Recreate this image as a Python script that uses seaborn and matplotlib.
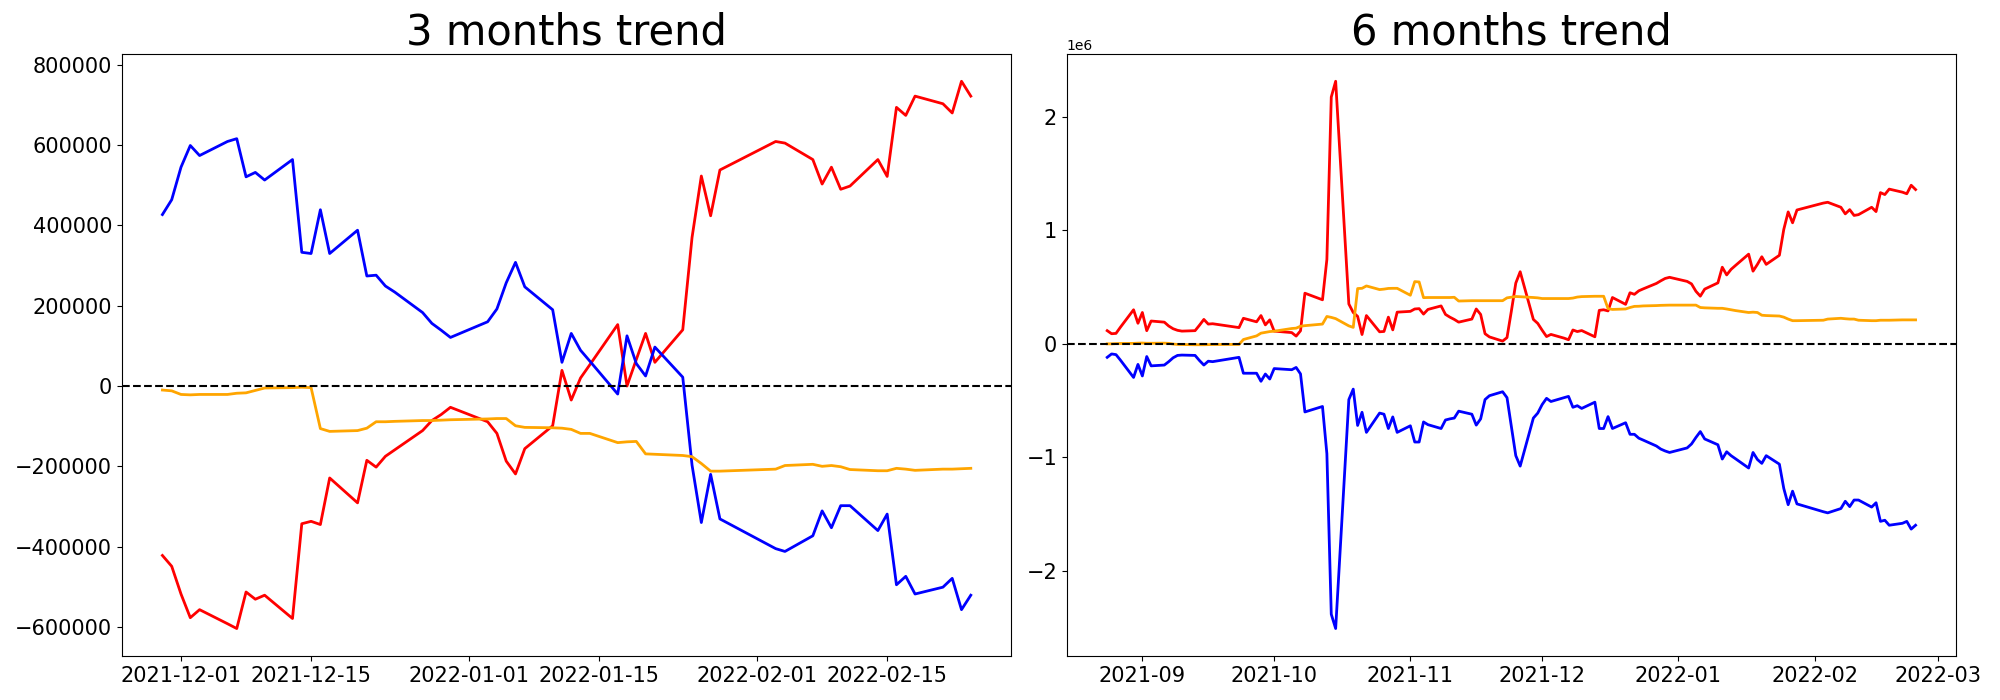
import numpy as np
import pandas as pd
import matplotlib
matplotlib.use("Agg")
import matplotlib.pyplot as plt
import seaborn as sns

# KRX trading calendar (market holidays in the period)
krx_holidays = ["2021-09-20", "2021-09-21", "2021-09-22", "2021-10-04", "2021-10-11",
                "2021-12-31", "2022-01-31", "2022-02-01", "2022-02-02"]

dates_3m = pd.bdate_range("2021-11-29", "2022-02-24", freq="C", holidays=krx_holidays)
dates_6m = pd.bdate_range("2021-08-24", "2022-02-24", freq="C", holidays=krx_holidays)

# 3 months trend (cumulative, in thousands)
red_3m = [-422, -449,
          -518, -577, -557, -592, -604, -513, -531, -521, -579, -343, -337, -345, -229, -291,
          -185, -202, -175, -159, -111, -86, -71, -53,
          -89, -118, -187, -219, -156, -99, 39, -35, 20, 53, 153, 0, 66, 131, 59, 140,
          370, 523, 424, 538,
          609, 605, 564, 503, 545, 490, 498, 564, 522, 694, 674, 722, 703, 680, 759, 722]
blue_3m = [427, 464,
           545, 599, 574, 609, 616, 521, 532, 513, 564, 333, 330, 439, 330, 388,
           274, 276, 249, 234, 183, 156, 139, 121,
           160, 192, 257, 308, 247, 190, 59, 131, 89, 62, -20, 125, 56, 25, 97, 22,
           -197, -340, -220, -331,
           -405, -412, -373, -311, -353, -298, -298, -360, -319, -495, -474, -518, -501, -479, -557, -521]
orange_3m = [-10, -12,
             -21, -22, -21, -21, -18, -17, -11, -5, -4, -3, -4, -106, -113, -111,
             -105, -89, -89, -88, -86, -86, -85, -84,
             -82, -81, -81, -99, -103, -104, -105, -108, -118, -118, -141, -139, -138, -169, -170, -173,
             -176, -193, -212, -212,
             -207, -198, -195, -200, -198, -201, -208, -211, -211, -205, -207, -210, -207, -207, -206, -205]

# 6 months trend (cumulative, in millions)
red_6m = [0.116, 0.089, 0.092, 0.146, 0.300, 0.181,
          0.276, 0.116, 0.201, 0.191, 0.157, 0.133, 0.119, 0.112, 0.116, 0.164, 0.215, 0.174, 0.177,
          0.143, 0.225, 0.194, 0.249, 0.167, 0.211,
          0.112, 0.099, 0.068, 0.115, 0.446, 0.388, 0.743, 2.174, 2.313, 0.351, 0.276, 0.242, 0.082,
          0.249, 0.106, 0.109, 0.235, 0.123, 0.279,
          0.286, 0.307, 0.310, 0.262, 0.303, 0.334, 0.259, 0.235, 0.215, 0.191, 0.218, 0.307, 0.259,
          0.089, 0.061, 0.024, 0.055, 0.290, 0.535, 0.635, 0.215, 0.180,
          0.120, 0.064, 0.083, 0.050, 0.036, 0.122, 0.108, 0.117, 0.062, 0.295, 0.300, 0.290, 0.408,
          0.348, 0.450, 0.436, 0.467, 0.484, 0.532, 0.555, 0.576, 0.586,
          0.550, 0.528, 0.463, 0.420, 0.482, 0.537, 0.675, 0.607, 0.656, 0.690, 0.790, 0.640, 0.700,
          0.767, 0.700, 0.780, 1.008, 1.162, 1.066, 1.179,
          1.240, 1.247, 1.203, 1.145, 1.182, 1.131, 1.138, 1.203, 1.165, 1.332, 1.315, 1.363, 1.336,
          1.322, 1.397, 1.359]
blue_6m = [-0.119, -0.089, -0.095, -0.143, -0.296, -0.181,
           -0.283, -0.112, -0.194, -0.187, -0.157, -0.123, -0.102, -0.099, -0.102, -0.147, -0.187,
           -0.153, -0.157, -0.119, -0.259, -0.259, -0.330, -0.266, -0.310,
           -0.218, -0.228, -0.208, -0.265, -0.600, -0.552, -0.968, -2.382, -2.508, -0.491, -0.399,
           -0.719, -0.603, -0.780, -0.610, -0.620, -0.746, -0.644, -0.780,
           -0.722, -0.865, -0.865, -0.688, -0.712, -0.746, -0.671, -0.661, -0.654, -0.593, -0.620,
           -0.716, -0.661, -0.491, -0.457, -0.422, -0.474, -0.730, -0.985, -1.077, -0.654, -0.610,
           -0.535, -0.480, -0.508, -0.474, -0.463, -0.559, -0.545, -0.569, -0.514, -0.746, -0.746,
           -0.641, -0.746, -0.695, -0.797, -0.797, -0.831, -0.848, -0.900, -0.927, -0.944, -0.957,
           -0.917, -0.882, -0.825, -0.773, -0.838, -0.889, -1.015, -0.951, -0.985, -1.012, -1.094,
           -0.957, -1.019, -1.053, -0.985, -1.060, -1.274, -1.417, -1.298, -1.410,
           -1.479, -1.489, -1.451, -1.387, -1.434, -1.376, -1.376, -1.438, -1.400, -1.564, -1.554,
           -1.598, -1.581, -1.564, -1.632, -1.598]
orange_6m = [0.000, 0.000, 0.002, 0.003, 0.004, 0.006,
             0.007, 0.005, 0.005, 0.006, 0.004, -0.002, -0.005, -0.006, -0.008, -0.008, -0.008,
             -0.007, -0.006, -0.005, 0.038, 0.070, 0.094, 0.101, 0.108,
             0.111, 0.135, 0.138, 0.155, 0.160, 0.174, 0.241, 0.233, 0.222, 0.158, 0.145, 0.487,
             0.489, 0.510, 0.478, 0.482, 0.488, 0.489, 0.489,
             0.428, 0.548, 0.545, 0.407, 0.408, 0.408, 0.408, 0.408, 0.410, 0.377, 0.380, 0.380,
             0.380, 0.380, 0.380, 0.380, 0.405, 0.411, 0.417, 0.415, 0.408, 0.405,
             0.399, 0.399, 0.399, 0.399, 0.399, 0.403, 0.412, 0.416, 0.419, 0.419, 0.419, 0.310,
             0.303, 0.307, 0.320, 0.330, 0.331, 0.334, 0.337, 0.339, 0.340, 0.341,
             0.341, 0.341, 0.341, 0.320, 0.317, 0.313, 0.313, 0.307, 0.300, 0.293, 0.276, 0.279,
             0.276, 0.252, 0.249, 0.245, 0.235, 0.218, 0.204, 0.204,
             0.208, 0.218, 0.225, 0.221, 0.218, 0.218, 0.208, 0.204, 0.204, 0.208, 0.208, 0.208,
             0.211, 0.211, 0.211, 0.211]

df_3m = pd.DataFrame({"date": dates_3m,
                      "red": np.array(red_3m) * 1000,
                      "blue": np.array(blue_3m) * 1000,
                      "orange": np.array(orange_3m) * 1000})
df_6m = pd.DataFrame({"date": dates_6m,
                      "red": np.array(red_6m) * 1e6,
                      "blue": np.array(blue_6m) * 1e6,
                      "orange": np.array(orange_6m) * 1e6})

fig, axes = plt.subplots(1, 2, figsize=(20, 7), dpi=100)

for ax, df, title in zip(axes, [df_3m, df_6m], ["3 months trend", "6 months trend"]):
    for col in ["red", "blue", "orange"]:
        sns.lineplot(data=df, x="date", y=col, color=col, linewidth=2, ax=ax)
    ax.axhline(0, color="black", linestyle="--", linewidth=1.5)
    ax.set_title(title, fontsize=30)
    ax.set_xlabel("")
    ax.set_ylabel("")
    ax.tick_params(labelsize=15)
    ax.yaxis.get_offset_text().set_fontsize(10)

fig.subplots_adjust(left=0.061, right=0.978, bottom=0.063, top=0.923, wspace=0.0625)
fig.savefig("out.png", dpi=100)
